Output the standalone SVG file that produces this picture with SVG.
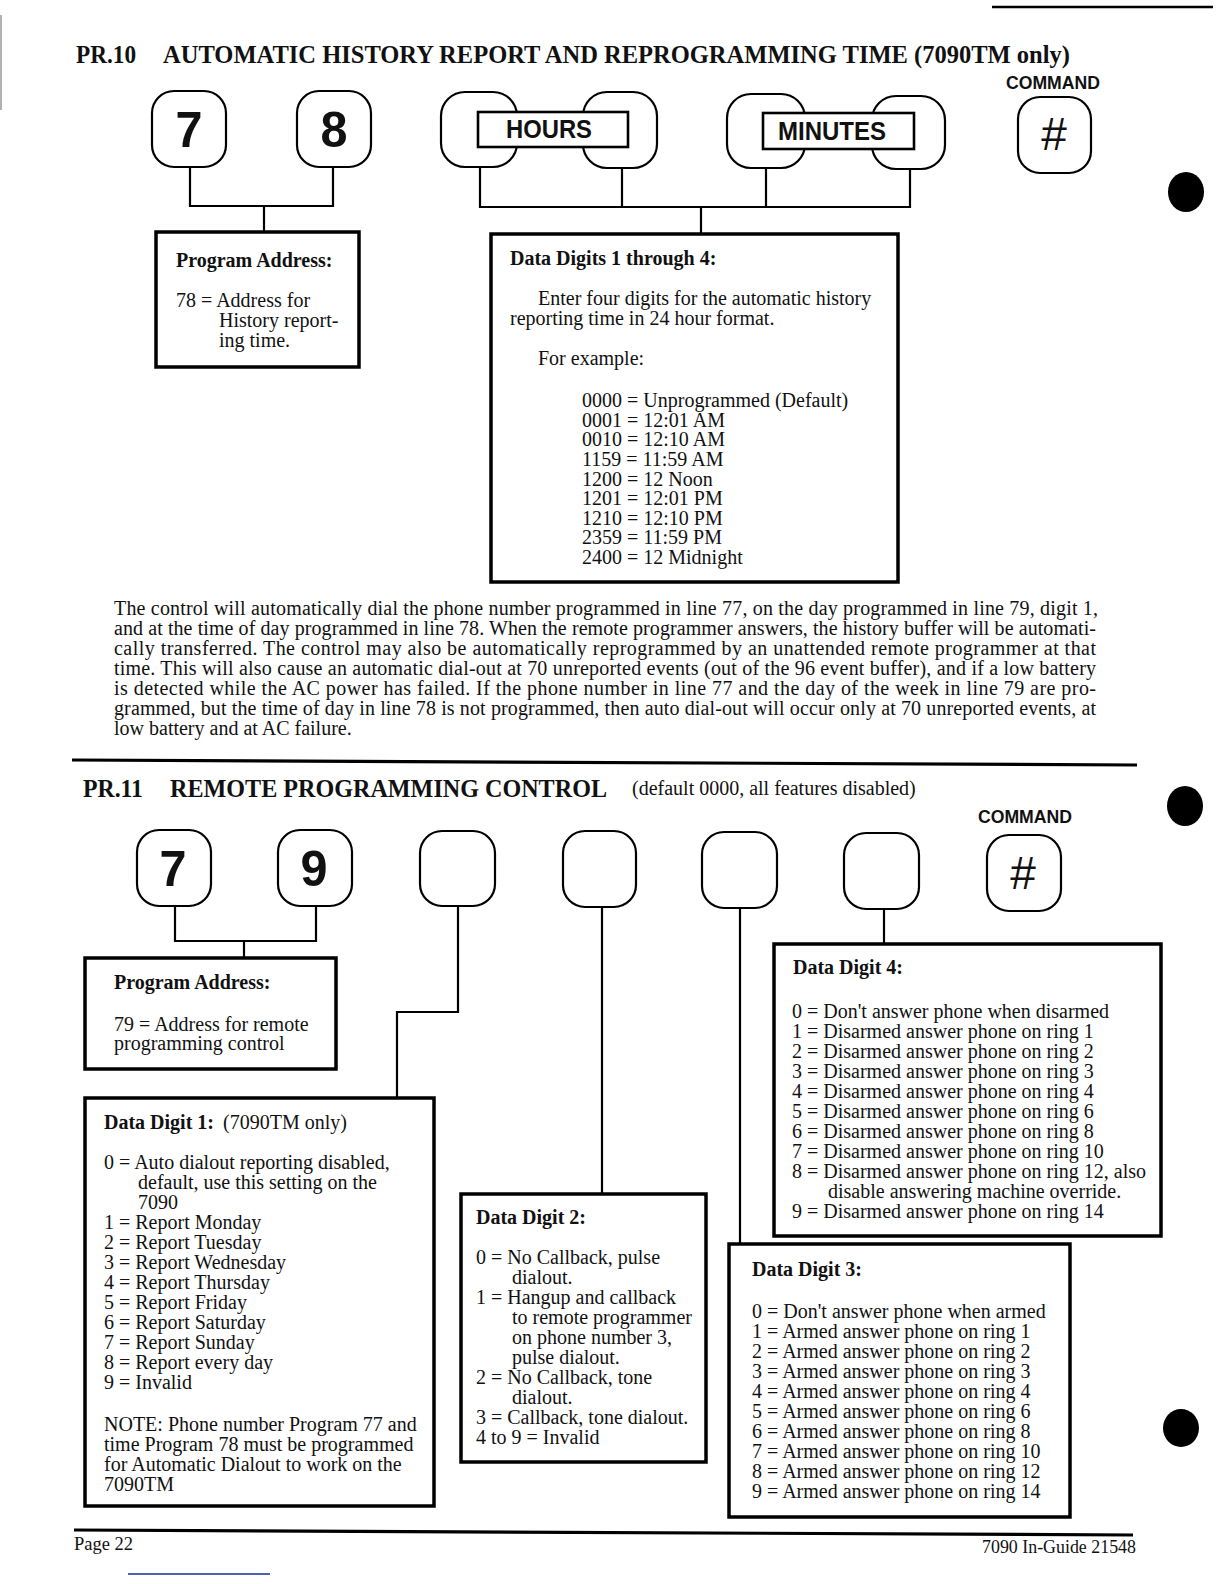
<svg xmlns="http://www.w3.org/2000/svg" width="1224" height="1584" viewBox="0 0 1224 1584">
<style>
  .bg{fill:#fff}
  .key{fill:#fff;stroke:#000;stroke-width:2.2}
  .lbl{fill:#fff;stroke:#000;stroke-width:2.6}
  .box{fill:#fff;stroke:#000;stroke-width:3.5}
  .con{fill:none;stroke:#000;stroke-width:2.2}
  .rule{stroke:#000;stroke-width:3.2}
  .dot{fill:#000}
  text{fill:#111}
  .t{font-family:"Liberation Serif","Times New Roman",serif;font-size:20px}
  .b{font-family:"Liberation Serif","Times New Roman",serif;font-size:20px;font-weight:bold}
  .title{font-family:"Liberation Serif","Times New Roman",serif;font-size:26px;font-weight:bold}
  .digit{font-family:"Liberation Sans",Arial,sans-serif;font-size:50px;font-weight:bold;text-anchor:middle}
  .hash{font-family:"Liberation Sans",Arial,sans-serif;font-size:46px;text-anchor:middle}
  .cmd{font-family:"Liberation Sans",Arial,sans-serif;font-size:19px;font-weight:bold}
  .kl{font-family:"Liberation Sans",Arial,sans-serif;font-size:25px;font-weight:bold}
  .foot{font-family:"Liberation Serif","Times New Roman",serif;font-size:18px}
</style>
<rect class="bg" x="0" y="0" width="1224" height="1584"/>

<!-- page decorations -->
<g id="decor">
  <line x1="992" y1="7" x2="1213" y2="7" stroke="#000" stroke-width="2.5"/>
  <line x1="1" y1="15" x2="1" y2="110" stroke="#999" stroke-width="1.5"/>
  <ellipse class="dot" cx="1186" cy="192" rx="18" ry="20"/>
  <ellipse class="dot" cx="1185" cy="806" rx="18" ry="20"/>
  <ellipse class="dot" cx="1181" cy="1428" rx="18" ry="19"/>
  <line class="rule" x1="72" y1="760" x2="1137" y2="765"/>
  <line class="rule" x1="74" y1="1530" x2="1133" y2="1535"/>
  <line x1="128" y1="1574" x2="270" y2="1574" stroke="#1a2a9a" stroke-width="1.6"/>
  <text class="foot" x="74" y="1550" textLength="59" lengthAdjust="spacingAndGlyphs">Page 22</text>
  <text class="foot" x="982" y="1553" textLength="154" lengthAdjust="spacingAndGlyphs">7090 In-Guide 21548</text>
</g>

<!-- PR.10 title -->
<g id="pr10-title">
  <text class="title" x="76" y="63" textLength="60" lengthAdjust="spacingAndGlyphs">PR.10</text>
  <text class="title" x="163" y="63" textLength="907" lengthAdjust="spacingAndGlyphs">AUTOMATIC HISTORY REPORT AND REPROGRAMMING TIME (7090TM only)</text>
  <text class="cmd" x="1006" y="89" textLength="94" lengthAdjust="spacingAndGlyphs">COMMAND</text>
</g>

<!-- PR.10 connectors -->
<g id="pr10-connectors">
  <polyline class="con" points="190,167 190,206 333,206 333,167"/>
  <line class="con" x1="264" y1="206" x2="264" y2="232"/>
  <polyline class="con" points="480,167 480,207 910,207 910,168"/>
  <line class="con" x1="622" y1="167" x2="622" y2="207"/>
  <line class="con" x1="766" y1="167" x2="766" y2="207"/>
  <line class="con" x1="701" y1="207" x2="701" y2="234"/>
</g>

<!-- PR.10 keys -->
<g id="pr10-key7">
  <rect class="key" x="152" y="91" width="74" height="76" rx="22"/>
  <text class="digit" x="189" y="147" textLength="27" lengthAdjust="spacingAndGlyphs">7</text>
</g>
<g id="pr10-key8">
  <rect class="key" x="297" y="91" width="74" height="76" rx="22"/>
  <text class="digit" x="334" y="147" textLength="27" lengthAdjust="spacingAndGlyphs">8</text>
</g>
<g id="pr10-hours">
  <rect class="key" x="441" y="92" width="76" height="75" rx="24"/>
  <rect class="key" x="583" y="92" width="74" height="76" rx="24"/>
  <rect class="lbl" x="478" y="112" width="150" height="35"/>
  <text class="kl" x="506" y="138" textLength="86" lengthAdjust="spacingAndGlyphs">HOURS</text>
</g>
<g id="pr10-minutes">
  <rect class="key" x="727" y="94" width="78" height="74" rx="24"/>
  <rect class="key" x="872" y="96" width="73" height="73" rx="24"/>
  <rect class="lbl" x="763" y="113" width="151" height="36"/>
  <text class="kl" x="778" y="140" textLength="108" lengthAdjust="spacingAndGlyphs">MINUTES</text>
</g>
<g id="pr10-command">
  <rect class="key" x="1018" y="97" width="73" height="76" rx="22"/>
  <text class="hash" x="1054" y="150">#</text>
</g>

<!-- PR.10 boxes -->
<g id="pr10-address">
  <rect class="box" x="156" y="232" width="203" height="135"/>
  <text class="b" x="176" y="267">Program Address:</text>
  <text class="t" x="176" y="307">78 = Address for</text>
  <text class="t" x="219" y="327">History report-</text>
  <text class="t" x="219" y="347">ing time.</text>
</g>
<g id="pr10-data">
  <rect class="box" x="491" y="234" width="407" height="348"/>
  <text class="b" x="510" y="265">Data Digits 1 through 4:</text>
  <text class="t" x="538" y="305">Enter four digits for the automatic history</text>
  <text class="t" x="510" y="325">reporting time in 24 hour format.</text>
  <text class="t" x="538" y="365">For example:</text>
  <text class="t" x="582" y="407">0000 = Unprogrammed (Default)</text>
  <text class="t" x="582" y="426.5">0001 = 12:01 AM</text>
  <text class="t" x="582" y="446">0010 = 12:10 AM</text>
  <text class="t" x="582" y="466">1159 = 11:59 AM</text>
  <text class="t" x="582" y="485.5">1200 = 12 Noon</text>
  <text class="t" x="582" y="505">1201 = 12:01 PM</text>
  <text class="t" x="582" y="524.5">1210 = 12:10 PM</text>
  <text class="t" x="582" y="544">2359 = 11:59 PM</text>
  <text class="t" x="582" y="564">2400 = 12 Midnight</text>
</g>

<!-- paragraph -->
<g id="pr10-paragraph">
  <text class="t" x="114" y="615" textLength="984">The control will automatically dial the phone number programmed in line 77, on the day programmed in line 79, digit 1,</text>
  <text class="t" x="114" y="635" textLength="982">and at the time of day programmed in line 78. When the remote programmer answers, the history buffer will be automati-</text>
  <text class="t" x="114" y="655" textLength="982">cally transferred. The control may also be automatically reprogrammed by an unattended remote programmer at that</text>
  <text class="t" x="114" y="675" textLength="982">time. This will also cause an automatic dial-out at 70 unreported events (out of the 96 event buffer), and if a low battery</text>
  <text class="t" x="114" y="695" textLength="982">is detected while the AC power has failed. If the phone number in line 77 and the day of the week in line 79 are pro-</text>
  <text class="t" x="114" y="715" textLength="982">grammed, but the time of day in line 78 is not programmed, then auto dial-out will occur only at 70 unreported events, at</text>
  <text class="t" x="114" y="735">low battery and at AC failure.</text>
</g>

<!-- PR.11 title -->
<g id="pr11-title">
  <text class="title" x="83" y="797" textLength="60" lengthAdjust="spacingAndGlyphs">PR.11</text>
  <text class="title" x="170" y="797" textLength="437" lengthAdjust="spacingAndGlyphs">REMOTE PROGRAMMING CONTROL</text>
  <text class="t" x="632" y="795">(default 0000, all features disabled)</text>
  <text class="cmd" x="978" y="823" textLength="94" lengthAdjust="spacingAndGlyphs">COMMAND</text>
</g>

<!-- PR.11 connectors -->
<g id="pr11-connectors">
  <polyline class="con" points="175,906 175,941 316,941 316,906"/>
  <line class="con" x1="244" y1="941" x2="244" y2="958"/>
  <polyline class="con" points="458,906 458,1012 397,1012 397,1098"/>
  <line class="con" x1="602" y1="907" x2="602" y2="1194"/>
  <line class="con" x1="740" y1="908" x2="740" y2="1244"/>
  <line class="con" x1="884" y1="909" x2="884" y2="944"/>
</g>

<!-- PR.11 keys -->
<g id="pr11-key7">
  <rect class="key" x="137" y="830" width="74" height="76" rx="22"/>
  <text class="digit" x="173" y="886" textLength="27" lengthAdjust="spacingAndGlyphs">7</text>
</g>
<g id="pr11-key9">
  <rect class="key" x="278" y="830" width="74" height="76" rx="22"/>
  <text class="digit" x="314" y="886" textLength="27" lengthAdjust="spacingAndGlyphs">9</text>
</g>
<g id="pr11-digit1-key">
  <rect class="key" x="420" y="831" width="75" height="75" rx="22"/>
</g>
<g id="pr11-digit2-key">
  <rect class="key" x="563" y="831" width="73" height="76" rx="22"/>
</g>
<g id="pr11-digit3-key">
  <rect class="key" x="702" y="832" width="75" height="76" rx="22"/>
</g>
<g id="pr11-digit4-key">
  <rect class="key" x="844" y="833" width="75" height="76" rx="22"/>
</g>
<g id="pr11-command">
  <rect class="key" x="987" y="835" width="74" height="76" rx="22"/>
  <text class="hash" x="1023" y="889">#</text>
</g>

<!-- PR.11 boxes -->
<g id="pr11-address">
  <rect class="box" x="85" y="958" width="251" height="111"/>
  <text class="b" x="114" y="989">Program Address:</text>
  <text class="t" x="114" y="1031">79 = Address for remote</text>
  <text class="t" x="114" y="1050">programming control</text>
</g>

<g id="pr11-digit1">
  <rect class="box" x="85" y="1098" width="349" height="408"/>
  <text class="b" x="104" y="1129">Data Digit 1:</text>
  <text class="t" x="223" y="1129">(7090TM only)</text>
  <text class="t" x="104" y="1169">0 = Auto dialout reporting disabled,</text>
  <text class="t" x="138" y="1189">default, use this setting on the</text>
  <text class="t" x="138" y="1209">7090</text>
  <text class="t" x="104" y="1229">1 = Report Monday</text>
  <text class="t" x="104" y="1249">2 = Report Tuesday</text>
  <text class="t" x="104" y="1269">3 = Report Wednesday</text>
  <text class="t" x="104" y="1289">4 = Report Thursday</text>
  <text class="t" x="104" y="1309">5 = Report Friday</text>
  <text class="t" x="104" y="1329">6 = Report Saturday</text>
  <text class="t" x="104" y="1349">7 = Report Sunday</text>
  <text class="t" x="104" y="1369">8 = Report every day</text>
  <text class="t" x="104" y="1389">9 = Invalid</text>
  <text class="t" x="104" y="1431">NOTE: Phone number Program 77 and</text>
  <text class="t" x="104" y="1451">time Program 78 must be programmed</text>
  <text class="t" x="104" y="1471">for Automatic Dialout to work on the</text>
  <text class="t" x="104" y="1491">7090TM</text>
</g>

<g id="pr11-digit2">
  <rect class="box" x="461" y="1194" width="245" height="268"/>
  <text class="b" x="476" y="1224">Data Digit 2:</text>
  <text class="t" x="476" y="1264">0 = No Callback, pulse</text>
  <text class="t" x="512" y="1284">dialout.</text>
  <text class="t" x="476" y="1304">1 = Hangup and callback</text>
  <text class="t" x="512" y="1324">to remote programmer</text>
  <text class="t" x="512" y="1344">on phone number 3,</text>
  <text class="t" x="512" y="1364">pulse dialout.</text>
  <text class="t" x="476" y="1384">2 = No Callback, tone</text>
  <text class="t" x="512" y="1404">dialout.</text>
  <text class="t" x="476" y="1424">3 = Callback, tone dialout.</text>
  <text class="t" x="476" y="1444">4 to 9 = Invalid</text>
</g>

<g id="pr11-digit4">
  <rect class="box" x="774" y="944" width="387" height="292"/>
  <text class="b" x="793" y="974">Data Digit 4:</text>
  <text class="t" x="792" y="1018">0 = Don't answer phone when disarmed</text>
  <text class="t" x="792" y="1038">1 = Disarmed answer phone on ring 1</text>
  <text class="t" x="792" y="1058">2 = Disarmed answer phone on ring 2</text>
  <text class="t" x="792" y="1078">3 = Disarmed answer phone on ring 3</text>
  <text class="t" x="792" y="1098">4 = Disarmed answer phone on ring 4</text>
  <text class="t" x="792" y="1118">5 = Disarmed answer phone on ring 6</text>
  <text class="t" x="792" y="1138">6 = Disarmed answer phone on ring 8</text>
  <text class="t" x="792" y="1158">7 = Disarmed answer phone on ring 10</text>
  <text class="t" x="792" y="1178">8 = Disarmed answer phone on ring 12, also</text>
  <text class="t" x="828" y="1198">disable answering machine override.</text>
  <text class="t" x="792" y="1218">9 = Disarmed answer phone on ring 14</text>
</g>

<g id="pr11-digit3">
  <rect class="box" x="729" y="1244" width="341" height="273"/>
  <text class="b" x="752" y="1276">Data Digit 3:</text>
  <text class="t" x="752" y="1318">0 = Don't answer phone when armed</text>
  <text class="t" x="752" y="1338">1 = Armed answer phone on ring 1</text>
  <text class="t" x="752" y="1358">2 = Armed answer phone on ring 2</text>
  <text class="t" x="752" y="1378">3 = Armed answer phone on ring 3</text>
  <text class="t" x="752" y="1398">4 = Armed answer phone on ring 4</text>
  <text class="t" x="752" y="1418">5 = Armed answer phone on ring 6</text>
  <text class="t" x="752" y="1438">6 = Armed answer phone on ring 8</text>
  <text class="t" x="752" y="1458">7 = Armed answer phone on ring 10</text>
  <text class="t" x="752" y="1478">8 = Armed answer phone on ring 12</text>
  <text class="t" x="752" y="1498">9 = Armed answer phone on ring 14</text>
</g>
</svg>
